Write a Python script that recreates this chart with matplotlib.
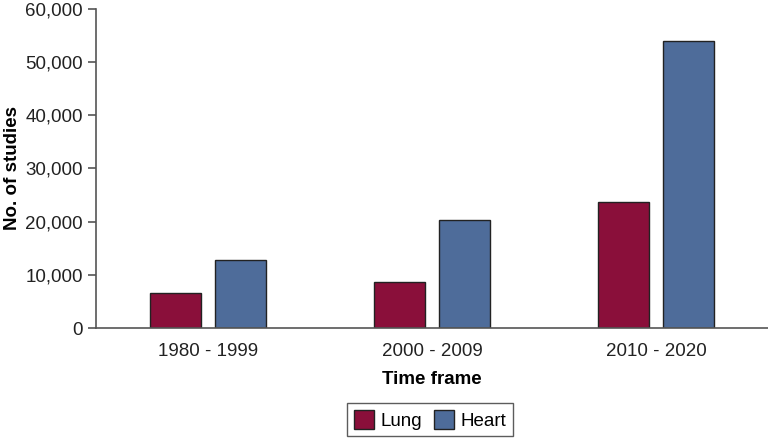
import matplotlib.pyplot as plt
import numpy as np

plt.rcParams['font.family'] = ['Liberation Sans', 'DejaVu Sans']

frames = ["1980 - 1999", "2000 - 2009", "2010 - 2020"]
lung = [6600, 8600, 23600]
heart = [12800, 20300, 53900]

lung_color = "#8a0f3a"
heart_color = "#4e6c9a"

fig = plt.figure(figsize=(7.68, 4.4), dpi=100)
ax = fig.add_axes([0.125, 0.2545, 0.875, 0.7255])

x = np.arange(len(frames))
w = 0.23
ax.bar(x - 0.145, lung, w, color=lung_color, edgecolor="#222222", linewidth=1, label="Lung")
ax.bar(x + 0.145, heart, w, color=heart_color, edgecolor="#222222", linewidth=1, label="Heart")

ax.set_xlim(-0.5, 2.5)
ax.set_ylim(0, 60000)
ax.set_yticks(range(0, 60001, 10000))
ax.set_yticklabels([f"{v:,}" for v in range(0, 60001, 10000)])
ax.set_xticks(x)
ax.set_xticklabels(frames)

for s in ["top", "right"]:
    ax.spines[s].set_visible(False)
for s in ["left", "bottom"]:
    ax.spines[s].set_color("#555555")
    ax.spines[s].set_linewidth(1.2)
ax.tick_params(axis="y", colors="#555555", labelcolor="#222222", labelsize=13.5, length=6, width=1.2)
ax.tick_params(axis="x", length=0, labelsize=13.5, labelcolor="#222222", pad=11)

ax.set_xlabel("Time frame", fontsize=13.5, fontweight="bold", labelpad=8)
ax.set_ylabel("No. of studies", fontsize=13.5, fontweight="bold", labelpad=3)

leg = fig.legend(loc="lower center", bbox_to_anchor=(430 / 768, 0), ncol=2, frameon=True,
                 fancybox=False, edgecolor="#333333", fontsize=13.5, handlelength=1.1,
                 handleheight=1.2, columnspacing=0.6, handletextpad=0.35, borderpad=0.35,
                 borderaxespad=0.2)
leg.get_frame().set_linewidth(1)

fig.savefig("out.png", dpi=100)
